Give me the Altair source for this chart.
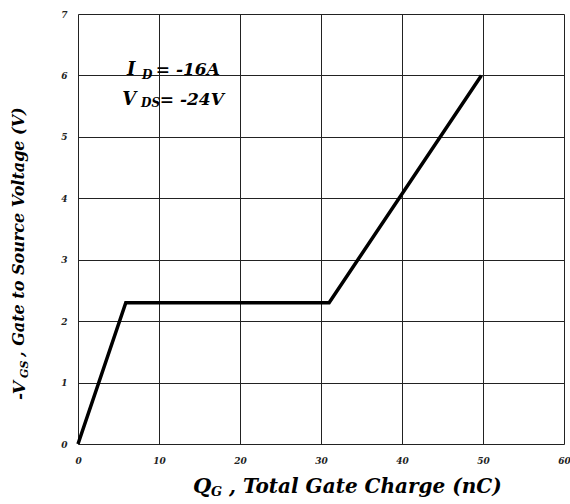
import altair as alt
import pandas as pd

# Gate charge curve (Q_G in nC, -V_GS in V)
qg = [0.0, 5.9, 31.0, 49.8]
vgs = [0.0, 2.3, 2.3, 6.0]

x_ticks = [0, 10, 20, 30, 40, 50, 60]
y_ticks = [0, 1, 2, 3, 4, 5, 6, 7]

# annotation pieces (text, data x, data y, size)
ann_text = ["I", "D", "= -16A", "V", "DS", "= -24V"]
ann_x = [6.05, 7.9, 9.6, 5.46, 7.78, 10.1]
ann_y = [6.0, 5.95, 6.0, 5.52, 5.48, 5.52]
ann_size = [18, 12, 17, 18, 12, 17]

FONT = "DejaVu Serif"
W, H = 486, 430

df = pd.DataFrame({"qg": qg, "vgs": vgs})
ann = pd.DataFrame({"t": ann_text, "x": ann_x, "y": ann_y, "s": ann_size})

xs = alt.Scale(domain=[0, 60], nice=False, zero=False)
ys = alt.Scale(domain=[0, 7], nice=False, zero=False)

xaxis = alt.Axis(values=x_ticks, format="d", grid=True, gridColor="#222", gridWidth=1, ticks=False,
                 domain=False, labelFont=FONT, labelFontStyle="italic", labelFontWeight="bold",
                 labelFontSize=9, labelPadding=12, labelColor="#222", title=None,
                 labelFlush=False, labelOverlap=False)
yaxis = alt.Axis(values=y_ticks, format="d", grid=True, gridColor="#222", gridWidth=1, ticks=False,
                 domain=False, labelFont=FONT, labelFontStyle="italic", labelFontWeight="bold",
                 labelFontSize=9, labelPadding=11, labelColor="#222", title=None,
                 labelFlush=False, labelOverlap=False)

line = alt.Chart(df).mark_line(color="black", strokeWidth=3.5).encode(
    x=alt.X("qg:Q", scale=xs, axis=xaxis),
    y=alt.Y("vgs:Q", scale=ys, axis=yaxis),
)

annot = alt.Chart(ann).mark_text(font=FONT, fontStyle="italic", fontWeight="bold",
                                 align="left", baseline="alphabetic", color="black").encode(
    x=alt.X("x:Q", scale=xs),
    y=alt.Y("y:Q", scale=ys),
    text="t:N",
    size=alt.Size("s:Q", scale=None, legend=None),
)

# axis titles with subscripts (positions relative to the plot area)
def ttl(text, x, y, size, angle=0):
    return alt.Chart(pd.DataFrame({"t": [text]})).mark_text(
        font=FONT, fontStyle="italic", fontWeight="bold", align="left",
        baseline="alphabetic", fontSize=size, angle=angle, color="black"
    ).encode(x=alt.value(x), y=alt.value(y), text="t:N")

xt = [ttl("Q", 115, 479, 21), ttl("G", 133, 482, 13), ttl(", Total Gate Charge (nC)", 151, 479, 20)]
yt = [ttl("-V", -53, 386, 17, 270), ttl("GS", -50, 364, 11, 270),
      ttl(", Gate to Source Voltage (V)", -54, 343, 16, 270)]

chart = alt.layer(line, annot, *xt, *yt).properties(
    width=W, height=H, autosize=alt.AutoSizeParams(type="none"),
    padding={"left": 78, "top": 14, "right": 6, "bottom": 60},
).configure_view(stroke="black", strokeWidth=4).configure(background="white")

chart.save("out.html", embed_options={"renderer": "svg", "actions": False})
